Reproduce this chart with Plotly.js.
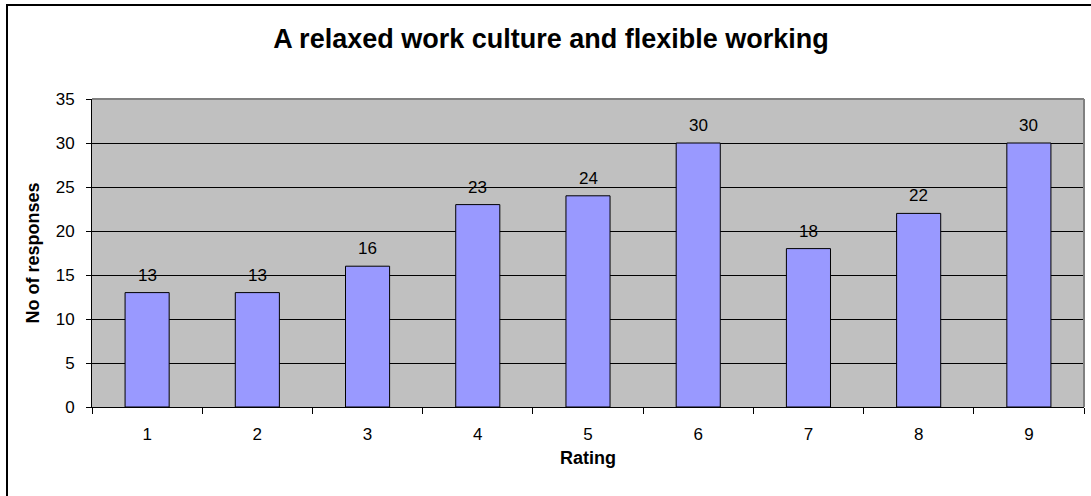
<!DOCTYPE html>
<html>
<head>
<meta charset="utf-8">
<script src="https://cdn.plot.ly/plotly-3.0.1.min.js"></script>
<style>
html,body{margin:0;padding:0;background:#fff;overflow:hidden;}
#frame{position:absolute;left:6px;top:4px;width:1100px;height:510px;border:2px solid #000;box-sizing:border-box;}
#chart{position:absolute;left:0;top:0;width:1091px;height:496px;}
</style>
</head>
<body>
<div id="frame"></div>
<div id="chart"></div>
<script>
const categories = ['1','2','3','4','5','6','7','8','9'];
const responses = [13, 13, 16, 23, 24, 30, 18, 22, 30];
const yTicks = [0, 5, 10, 15, 20, 25, 30, 35];
const chartTitle = 'A relaxed work culture and flexible working';
const xTitle = 'Rating';
const yTitle = 'No of responses';

const FONT = 'Liberation Sans, Arial, sans-serif';

const trace = {
  type: 'bar',
  x: categories,
  y: responses,
  marker: {color: '#9999FF', line: {color: '#000', width: 1}},
  hoverinfo: 'skip'
};

// category axis: annotation x given as the category's index position
const labels = categories.map((c, i) => ({
  x: i, y: responses[i], xref: 'x', yref: 'y',
  text: String(responses[i]), showarrow: false,
  yanchor: 'bottom', yshift: 6,
  font: {family: FONT, size: 17, color: '#000'}
}));

const layout = {
  width: 1091, height: 496,
  paper_bgcolor: 'rgba(0,0,0,0)',
  plot_bgcolor: '#C0C0C0',
  margin: {l: 92, r: 7, t: 99, b: 89},
  bargap: 0.6,
  showlegend: false,
  font: {family: FONT, color: '#000'},
  title: {text: '<b>' + chartTitle + '</b>', font: {family: FONT, size: 27, color: '#000'}, x: 0.505, xanchor: 'center', y: 0.922, yanchor: 'middle'},
  xaxis: {
    type: 'category',
    categoryarray: categories,
    range: [-0.5, categories.length - 0.5],
    tickson: 'boundaries',
    ticks: 'outside', ticklen: 6, tickcolor: '#000', tickwidth: 1,
    showline: true, linecolor: '#000', linewidth: 1,
    showgrid: false,
    ticklabelstandoff: 12,
    tickfont: {family: FONT, size: 17, color: '#000'},
    title: {text: '<b>' + xTitle + '</b>', font: {family: FONT, size: 18, color: '#000'}, standoff: 7}
  },
  yaxis: {
    range: [0, 35],
    tickvals: yTicks,
    ticks: 'outside', ticklen: 5, tickcolor: '#000', tickwidth: 1,
    showline: true, linecolor: '#000', linewidth: 1,
    showgrid: true, gridcolor: '#000', gridwidth: 1,
    zeroline: false,
    ticklabelstandoff: 8,
    tickfont: {family: FONT, size: 17, color: '#000'},
    title: {text: '<b>' + yTitle + '</b>', font: {family: FONT, size: 18, color: '#000'}, standoff: 11}
  },
  annotations: labels,
  shapes: [
    {type: 'line', xref: 'paper', yref: 'paper', x0: 0, x1: 1, y0: 1, y1: 1, line: {color: '#808080', width: 2}, layer: 'above'},
    {type: 'line', xref: 'paper', yref: 'paper', x0: 1, x1: 1, y0: 0, y1: 1, line: {color: '#808080', width: 2}, layer: 'above'}
  ]
};

Plotly.newPlot('chart', [trace], layout, {displayModeBar: false, staticPlot: true});
</script>
</body>
</html>
